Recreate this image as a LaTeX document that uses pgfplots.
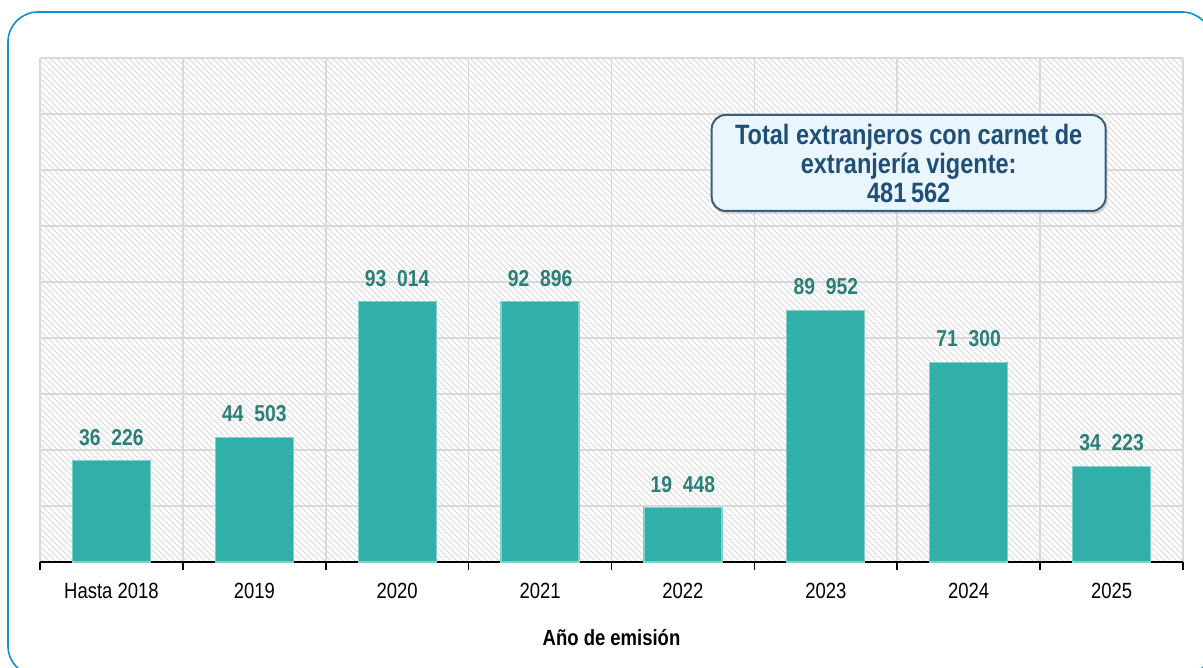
\documentclass[border=0pt]{standalone}
\usepackage{fontspec}
\setmainfont{Liberation Sans}[FakeStretch=0.84]
\usepackage{pgfplots}
\pgfplotsset{compat=1.18}
\usetikzlibrary{patterns,shadows}
\definecolor{barc}{HTML}{31B0A9}
\definecolor{labc}{HTML}{2A7F78}
\definecolor{boxf}{HTML}{EAF6FD}
\definecolor{boxt}{HTML}{1F4E79}
\definecolor{frame}{HTML}{0E8FD8}
\definecolor{gridc}{HTML}{D9D9D9}
\begin{document}
\begin{tikzpicture}[x=1pt,y=1pt]
\path (-20,-53) rectangle (581.5,281);
\begin{scope}
\clip (-20,-53) rectangle (581.5,281);
\draw[frame, line width=0.8pt, rounded corners=15pt] (-16,-57) rectangle (586,275);
\end{scope}
\begin{axis}[
  at={(0,0)}, anchor=south west,
  scale only axis, width=571.5pt, height=252pt,
  xmin=-0.5, xmax=7.5, ymin=0, ymax=180000,
  scaled y ticks=false,
  ytick={0,20000,...,180000}, yticklabels={},
  ymajorgrids, major grid style={gridc, line width=0.8pt},
  xtick={0,...,7},
  xticklabels={Hasta 2018,2019,2020,2021,2022,2023,2024,2025},
  major tick style={draw=none},
  minor xtick={-0.5,0.5,...,7.5},
  xminorgrids, minor grid style={gridc, line width=0.8pt},
  minor tick length=4pt,
  axis x line*=bottom, axis y line*=left,
  y axis line style={draw=none},
  x axis line style={black, line width=0.8pt, -},
  minor x tick style={black, line width=0.8pt},
  tick align=outside,
  /pgf/number format/assume math mode=true,
  ticklabel style={font=\fontsize{11}{13}\selectfont},
  xticklabel style={yshift=-3pt},
  xlabel={\bfseries Año de emisión},
  xlabel style={font=\fontsize{11}{13}\selectfont, yshift=-8pt},
  axis background/.style={pattern=north west lines, pattern color=gridc},
  ybar, bar width=39pt,
  nodes near coords={\pgfmathprintnumber[fixed, assume math mode=true, 1000 sep={\ \ }]{\pgfplotspointmeta}},
  nodes near coords style={font=\fontsize{11.5}{13}\selectfont\bfseries, text=labc, yshift=4pt},
  point meta=explicit,
  clip=false,
]
\addplot[fill=barc, draw=barc!60!white, line width=0.6pt] coordinates {
  (0,36226) [36226] (1,44503) [44503] (2,93014) [93014] (3,92896) [92896]
  (4,19448) [19448] (5,89952) [89952] (6,71300) [71300] (7,34223) [34223]};
\node[draw=boxt!70!gray, line width=1pt, fill=boxf, rounded corners=7pt,
  minimum width=197pt, minimum height=48pt, align=center, text=boxt,
  inner sep=2pt,
  font=\fontsize{14}{14.5}\selectfont\bfseries,
  drop shadow={shadow xshift=1pt, shadow yshift=-1.5pt, fill=gray!60}]
  at (axis cs:5.58,142500)
  {Total extranjeros con carnet de\\extranjería vigente:\\481\,562};
\end{axis}
\end{tikzpicture}
\end{document}
